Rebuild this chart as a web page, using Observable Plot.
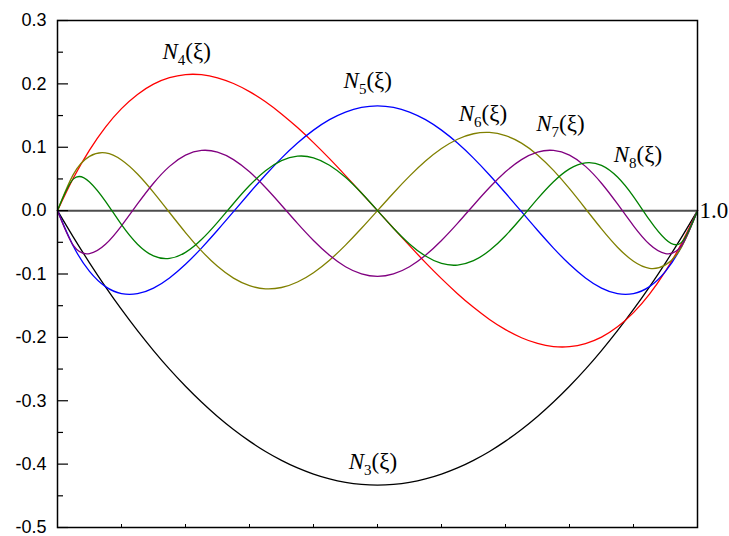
<!DOCTYPE html>
<html><head><meta charset="utf-8">
<script src="https://cdn.jsdelivr.net/npm/d3@7"></script>
<script src="https://cdn.jsdelivr.net/npm/@observablehq/plot@0.6"></script>
<style>body{margin:0;background:#fff}</style>
</head><body><div id="chart"></div>
<script>
// sample positions ξ mapped to [0,1]
const xs = [0,0.025,0.05,0.075,0.1,0.125,0.15,0.175,0.2,0.225,0.25,0.275,0.3,0.325,0.35,0.375,0.4,0.425,0.45,0.475,0.5,0.525,0.55,0.575,0.6,0.625,0.65,0.675,0.7,0.725,0.75,0.775,0.8,0.825,0.85,0.875,0.9,0.925,0.95,0.975,1];
const N3 = [0,-0.0422,-0.0823,-0.1202,-0.1559,-0.1894,-0.2208,-0.2501,-0.2771,-0.3020,-0.3248,-0.3453,-0.3637,-0.3800,-0.3940,-0.4060,-0.4157,-0.4233,-0.4287,-0.4319,-0.4330,-0.4319,-0.4287,-0.4233,-0.4157,-0.4060,-0.3940,-0.3800,-0.3637,-0.3453,-0.3248,-0.3020,-0.2771,-0.2501,-0.2208,-0.1894,-0.1559,-0.1202,-0.0823,-0.0422,0];
const N4 = [0,0.0518,0.0956,0.1319,0.1610,0.1834,0.1996,0.2098,0.2147,0.2145,0.2096,0.2006,0.1878,0.1717,0.1526,0.1310,0.1073,0.0820,0.0553,0.0279,0,-0.0279,-0.0553,-0.0820,-0.1073,-0.1310,-0.1526,-0.1717,-0.1878,-0.2006,-0.2096,-0.2145,-0.2147,-0.2098,-0.1996,-0.1834,-0.1610,-0.1319,-0.0956,-0.0518,0];
const N5 = [0,-0.0566,-0.0958,-0.1199,-0.1310,-0.1311,-0.1223,-0.1062,-0.0847,-0.0591,-0.0310,-0.0017,0.0278,0.0562,0.0828,0.1066,0.1270,0.1435,0.1555,0.1629,0.1654,0.1629,0.1555,0.1435,0.1270,0.1066,0.0828,0.0562,0.0278,-0.0017,-0.0310,-0.0591,-0.0847,-0.1062,-0.1223,-0.1311,-0.1310,-0.1199,-0.0958,-0.0566,0];
const N6 = [0,0.0576,0.0856,0.0910,0.0799,0.0577,0.0288,-0.0030,-0.0346,-0.0635,-0.0879,-0.1065,-0.1184,-0.1234,-0.1213,-0.1126,-0.0979,-0.0782,-0.0544,-0.0279,0,0.0279,0.0544,0.0782,0.0979,0.1126,0.1213,0.1234,0.1184,0.1065,0.0879,0.0635,0.0346,0.0030,-0.0288,-0.0577,-0.0799,-0.0910,-0.0856,-0.0576,0];
const N7 = [0,-0.0553,-0.0677,-0.0531,-0.0239,0.0105,0.0432,0.0698,0.0875,0.0950,0.0923,0.0805,0.0612,0.0364,0.0085,-0.0201,-0.0471,-0.0705,-0.0885,-0.0998,-0.1037,-0.0998,-0.0885,-0.0705,-0.0471,-0.0201,0.0085,0.0364,0.0612,0.0805,0.0923,0.0950,0.0875,0.0698,0.0432,0.0105,-0.0239,-0.0531,-0.0677,-0.0553,0];
const N8 = [0,0.0501,0.0453,0.0147,-0.0222,-0.0530,-0.0715,-0.0755,-0.0659,-0.0456,-0.0185,0.0113,0.0396,0.0630,0.0790,0.0859,0.0834,0.0717,0.0525,0.0277,0,-0.0277,-0.0525,-0.0717,-0.0834,-0.0859,-0.0790,-0.0630,-0.0396,-0.0113,0.0185,0.0456,0.0659,0.0755,0.0715,0.0530,0.0222,-0.0147,-0.0453,-0.0501,0];

const seriesNames = ["3","4","5","6","7","8"];
const seriesValues = [N3, N4, N5, N6, N7, N8];
const seriesColors = ["#000000","#ff0000","#0000ff","#808000","#800080","#008000"];

const yMajor = [-0.5,-0.4,-0.3,-0.2,-0.1,0,0.1,0.2,0.3];
const yMinor = [-0.45,-0.35,-0.25,-0.15,-0.05,0.05,0.15,0.25];
const xTicks = [0.1,0.2,0.3,0.4,0.5,0.6,0.7,0.8,0.9];

// label anchors (data coordinates)
const labelIdx = ["4","5","6","7","8","3"];
const labelX = [0.164,0.447,0.627,0.748,0.869,0.455];
const labelY = [0.240,0.193,0.142,0.125,0.076,-0.407];

const lineMarks = seriesNames.map((n, i) =>
  Plot.line(xs.map((x, j) => ({x, y: seriesValues[i][j]})), {
    x: "x", y: "y", stroke: seriesColors[i], strokeWidth: 1.3, curve: "natural"
  })
);

const labels = labelIdx.map((k, i) => ({t: `N${k}(ξ)`, x: labelX[i], y: labelY[i]}));

const chart = Plot.plot({
  width: 729, height: 536,
  marginLeft: 57, marginRight: 32, marginTop: 20, marginBottom: 9,
  style: {fontFamily: "'Liberation Sans', Arial, sans-serif", background: "#fff"},
  x: {domain: [0, 1], axis: null},
  y: {domain: [-0.5, 0.3], axis: null},
  marks: [
    Plot.ruleY([0], {stroke: "#4d4d4d", strokeWidth: 2}),
    ...lineMarks,
    Plot.axisY(yMajor, {anchor: "left", tickSize: -11, fill: "none", stroke: "#000", strokeWidth: 1.2, label: null}),
    Plot.axisY(yMinor, {anchor: "left", tickSize: -6, fill: "none", stroke: "#000", strokeWidth: 1.2, label: null}),
    Plot.axisY(yMajor, {anchor: "left", tickSize: 0, tickPadding: 11, fill: "#000", fontSize: 18, tickFormat: d => d.toFixed(1), label: null}),
    Plot.axisX(xTicks, {anchor: "bottom", tickSize: -3, fill: "none", stroke: "#000", strokeWidth: 1, label: null}),
    Plot.frame({stroke: "#000", strokeWidth: 1.5}),
    Plot.text(labels, {x: "x", y: "y", text: "t", textAnchor: "start", lineAnchor: "bottom", fontFamily: "'Liberation Serif', 'Times New Roman', serif", fontSize: 23, fill: "#000"}),
    Plot.text(["1.0"], {x: [1], y: [0], text: d => d, textAnchor: "start", dx: 2, fontFamily: "'Liberation Serif', 'Times New Roman', serif", fontSize: 23, fill: "#000"})
  ]
});

// italic N with subscript index
d3.select(chart).selectAll("text").each(function() {
  const m = /^N(\d)\(ξ\)$/.exec(this.textContent);
  if (!m) return;
  const el = d3.select(this);
  el.text(null);
  el.append("tspan").attr("font-style", "italic").text("N");
  el.append("tspan").attr("font-size", 15).attr("dy", 6).text(m[1]);
  el.append("tspan").attr("dy", -6).text("(ξ)");
});

document.getElementById("chart").appendChild(chart);
</script>
</body></html>
